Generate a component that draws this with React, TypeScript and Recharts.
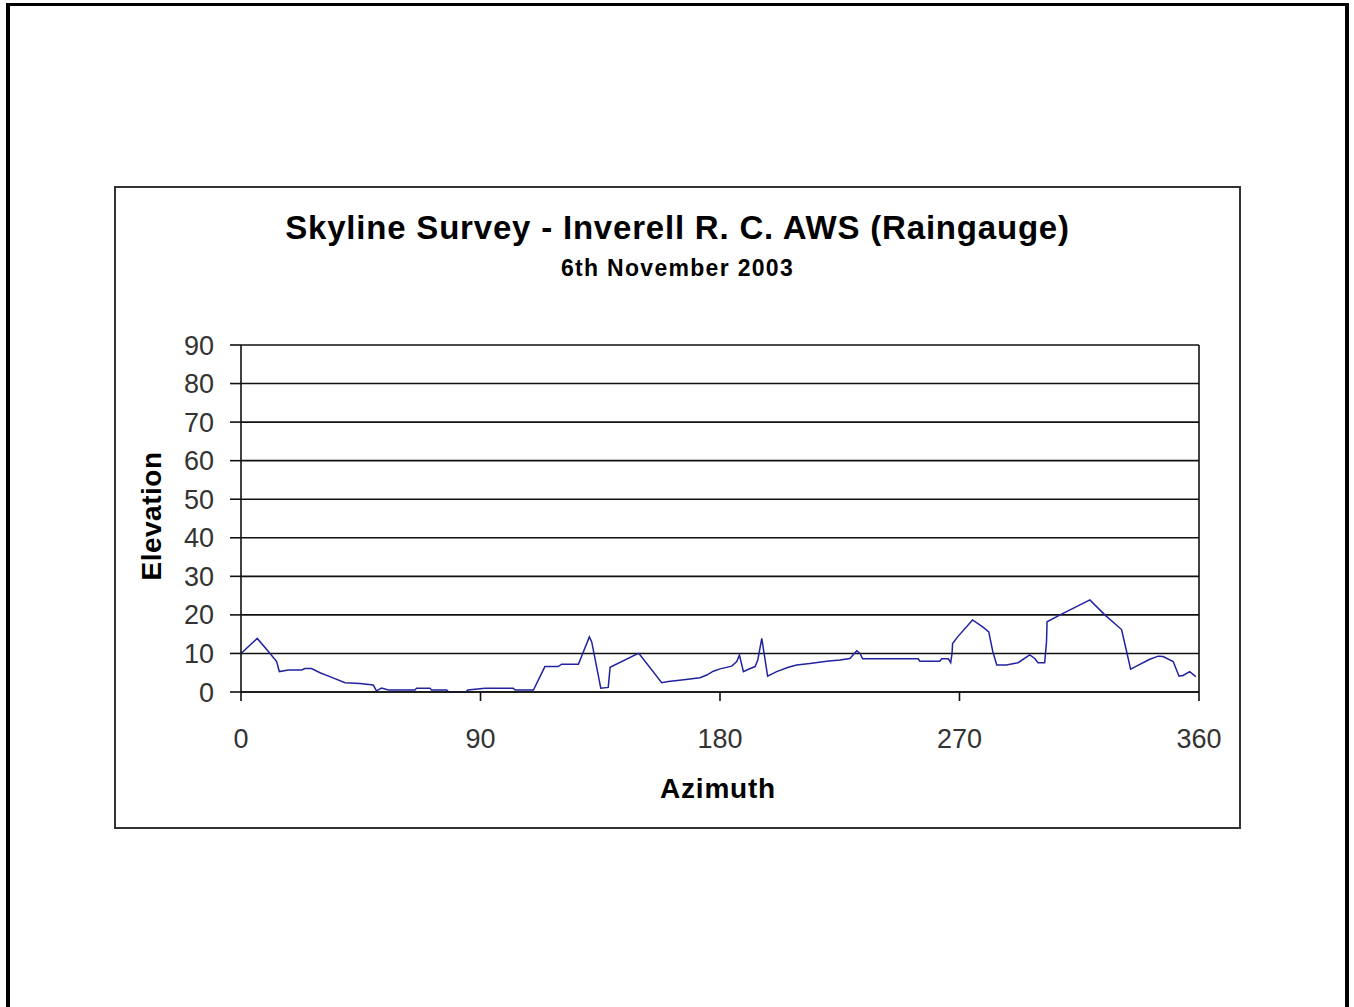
import React from "react";
import {
  LineChart,
  Line,
  XAxis,
  YAxis,
  CartesianGrid,
  ReferenceLine,
} from "recharts";

// skyline survey readings
const azimuth = [
  0, 6.1, 10.3, 13.4, 14.4, 17.8, 22.8, 24.0, 26.5, 29.7, 33.4, 39.1, 44.7, 49.7,
  50.9, 52.8, 55.4, 65.4, 66.0, 71.0, 71.6, 77.3, 78.0, 84.5, 85.2, 91.7, 102.3,
  103.0, 109.9, 114.2, 119.2, 120.5, 126.8, 130.9, 131.8, 135.2, 138.0, 138.7,
  149.3, 150.0, 158.1, 160.6, 165.6, 172.5, 175.0, 177.5, 180.0, 184.4, 186.3,
  187.3, 188.8, 190.7, 193.2, 194.2, 195.7, 197.9, 201.3, 205.7, 208.8, 213.8,
  220.1, 225.1, 228.8, 231.4, 232.6, 233.6, 254.5, 255.1, 262.6, 263.3, 265.8,
  266.7, 267.2, 267.4, 269.3, 274.9, 278.7, 281.0, 282.5, 284.0, 287.6, 292.0,
  296.4, 298.3, 299.5, 302.0, 302.7, 302.9, 307.8, 319.0, 324.6, 330.9, 332.8,
  334.3, 336.5, 341.5, 344.7, 346.5, 350.3, 352.5, 354.0, 356.5, 358.8,
];
const elevation = [
  10.0, 13.9, 10.5, 7.9, 5.3, 5.7, 5.7, 6.1, 6.1, 5.0, 4.0, 2.4, 2.2, 1.8,
  0.3, 1.0, 0.5, 0.5, 1.0, 1.0, 0.5, 0.5, 0, 0, 0.5, 1.0, 1.0,
  0.5, 0.5, 6.6, 6.6, 7.2, 7.2, 14.3, 13.0, 1.0, 1.2, 6.4,
  10.0, 9.6, 2.4, 2.7, 3.1, 3.7, 4.4, 5.4, 6.0, 6.7, 7.9,
  9.6, 5.3, 5.9, 6.6, 8.3, 13.9, 4.1, 5.3, 6.4, 7.0, 7.4,
  8.0, 8.3, 8.7, 10.7, 10.0, 8.6, 8.6, 8.0, 8.0, 8.6, 8.6,
  7.6, 10.0, 12.6, 14.3, 18.7, 16.9, 15.6, 10.5, 7.0, 7.0, 7.6,
  9.6, 8.7, 7.6, 7.6, 13.0, 18.2, 20.0, 23.9, 20.0, 16.2, 10.5,
  5.9, 6.7, 8.5, 9.3, 9.2, 7.9, 4.1, 4.3, 5.3, 4.0,
];
const xTicks = [0, 90, 180, 270, 360];
const yTicks = [0, 10, 20, 30, 40, 50, 60, 70, 80, 90];

const rows = azimuth.map((az, i) => ({ az, el: elevation[i] }));

const font = "'Liberation Sans', Arial, sans-serif";

export default function App() {
  return (
    <div style={{ fontFamily: font }}>
      {/* page frame */}
      <div
        style={{
          position: "absolute",
          left: 6,
          top: 3,
          width: 1343,
          height: 1004,
          boxSizing: "border-box",
          borderTop: "3px solid #000",
          borderLeft: "4px solid #000",
          borderRight: "4px solid #000",
        }}
      />
      {/* chart area */}
      <div
        style={{
          position: "absolute",
          left: 114,
          top: 186,
          width: 1127,
          height: 643,
          boxSizing: "border-box",
          border: "2px solid #333",
          background: "#fff",
        }}
      >
        <LineChart
          width={1123}
          height={639}
          data={rows}
          margin={{ top: 157, right: 40, bottom: 75, left: 55 }}
        >
          <CartesianGrid vertical={false} stroke="#111" strokeWidth={1.6} />
          <XAxis
            dataKey="az"
            type="number"
            domain={[0, 360]}
            ticks={xTicks}
            interval={0}
            height={60}
            tickSize={9}
            tickMargin={28}
            axisLine={{ stroke: "#111", strokeWidth: 1.6 }}
            tickLine={{ stroke: "#111", strokeWidth: 1.6 }}
            tick={{ fill: "#333", fontSize: 27, fontFamily: font }}
          />
          <YAxis
            type="number"
            domain={[0, 90]}
            ticks={yTicks}
            interval={0}
            width={70}
            tickSize={11}
            tickMargin={16}
            axisLine={{ stroke: "#111", strokeWidth: 1.6 }}
            tickLine={{ stroke: "#111", strokeWidth: 1.6 }}
            tick={{ fill: "#333", fontSize: 27, fontFamily: font }}
          />
          <ReferenceLine x={360} stroke="#111" strokeWidth={1.6} />
          <Line
            type="linear"
            dataKey="el"
            stroke="#2222a0"
            strokeWidth={1.5}
            dot={false}
            isAnimationActive={false}
          />
        </LineChart>
      </div>
      {/* titles */}
      <div
        style={{
          position: "absolute",
          left: 114,
          width: 1127,
          top: 211,
          textAlign: "center",
          fontWeight: "bold",
          fontSize: 33,
          lineHeight: "33px",
          letterSpacing: 0.8,
        }}
      >
        Skyline Survey - Inverell R. C. AWS (Raingauge)
      </div>
      <div
        style={{
          position: "absolute",
          left: 114,
          width: 1127,
          top: 257,
          textAlign: "center",
          fontWeight: "bold",
          fontSize: 23,
          lineHeight: "23px",
          letterSpacing: 1.3,
        }}
      >
        6th November 2003
      </div>
      <div
        style={{
          position: "absolute",
          left: 618,
          width: 200,
          top: 775,
          textAlign: "center",
          fontWeight: "bold",
          fontSize: 28,
          lineHeight: "28px",
          letterSpacing: 0.8,
        }}
      >
        Azimuth
      </div>
      <div
        style={{
          position: "absolute",
          left: 52,
          width: 200,
          top: 502,
          textAlign: "center",
          fontWeight: "bold",
          fontSize: 28,
          lineHeight: "28px",
          letterSpacing: 0.5,
          transform: "rotate(-90deg)",
        }}
      >
        Elevation
      </div>
    </div>
  );
}
